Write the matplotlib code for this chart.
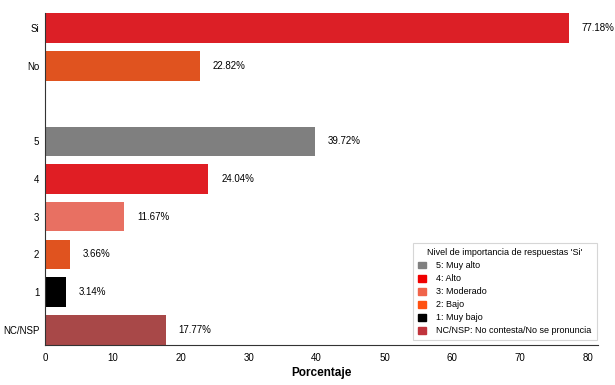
import matplotlib
matplotlib.use("Agg")
import matplotlib.pyplot as plt
from matplotlib.patches import Patch

plt.rcParams['font.family'] = ['Liberation Sans', 'DejaVu Sans']

# categories from top to bottom, '' marks the empty slot
labels = ['Si', 'No', '', '5', '4', '3', '2', '1', 'NC/NSP']
values = [77.18, 22.82, None, 39.72, 24.04, 11.67, 3.66, 3.14, 17.77]
bar_colors = ['#dc1f26', '#e0531f', None, '#7f7f7f', '#e01e24', '#e87062',
              '#e0531f', '#000000', '#a84848']

legend_labels = ['5: Muy alto', '4: Alto', '3: Moderado', '2: Bajo', '1: Muy bajo',
                 'NC/NSP: No contesta/No se pronuncia']
legend_colors = ['#808080', '#f00000', '#f0644a', '#ff5010', '#000000', '#c0343c']

fig = plt.figure(figsize=(6.15, 3.85), dpi=100)
ax = fig.add_axes([0.073, 0.104, 0.9, 0.862])

pos = list(range(len(labels)))
for p, v, c in zip(pos, values, bar_colors):
    if v is None:
        continue
    ax.barh(p, v, height=0.78, color=c)
    ax.text(v + 1.9, p, f'{v:.2f}%', va='center', ha='left', fontsize=7)

ax.set_yticks([p for p, l in zip(pos, labels) if l])
ax.set_yticklabels([l for l in labels if l])
ax.set_ylim(len(labels) - 0.6, -0.4)
ax.set_xlim(0, 81.5)
ax.set_xticks(range(0, 81, 10))
ax.tick_params(axis='y', length=0, labelsize=7, pad=4)
ax.tick_params(axis='x', length=0, labelsize=7, pad=6)
ax.set_xlabel('Porcentaje', fontsize=8.5, fontweight='bold', labelpad=3)

ax.spines['top'].set_visible(False)
ax.spines['right'].set_visible(False)
ax.spines['left'].set_color('#333333')
ax.spines['bottom'].set_color('#333333')

handles = [Patch(color=c, label=l) for c, l in zip(legend_colors, legend_labels)]
leg = ax.legend(handles=handles, title="Nivel de importancia de respuestas 'Si'",
                loc='lower right', fontsize=6.5, title_fontsize=6.5, frameon=True,
                handlelength=0.8, handleheight=0.8, borderpad=0.55, labelspacing=0.45,
                handletextpad=1.2, fancybox=False, bbox_to_anchor=(1.005, 0.0))
leg.get_frame().set_edgecolor('#cccccc')
leg.get_frame().set_linewidth(0.8)

fig.savefig('out.png', dpi=100)
